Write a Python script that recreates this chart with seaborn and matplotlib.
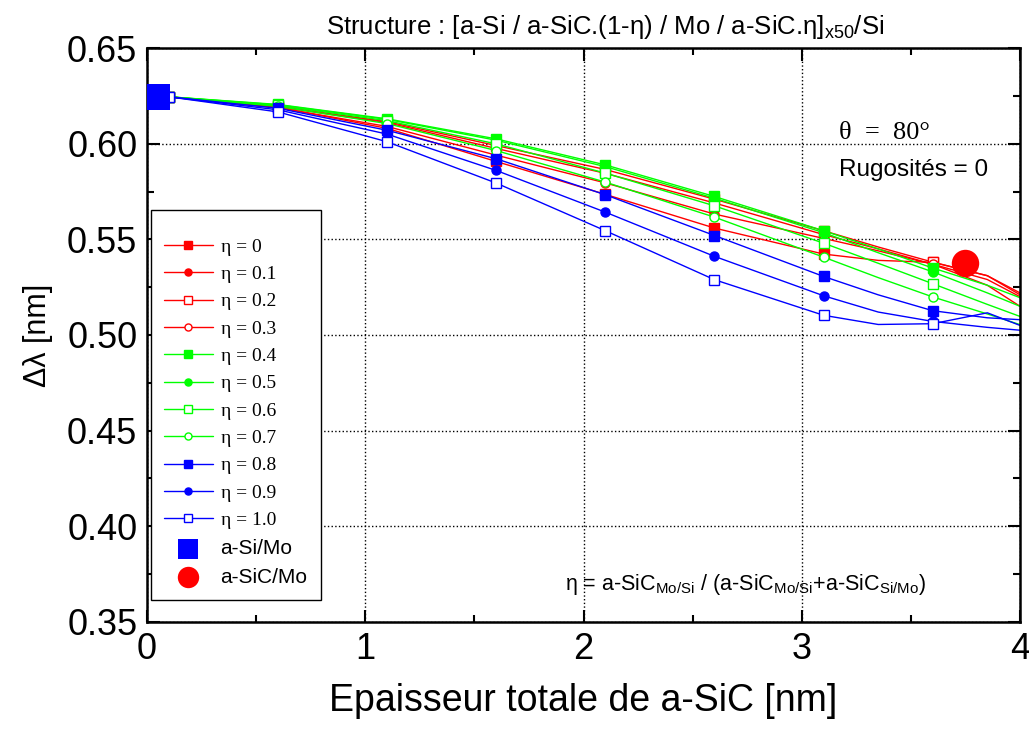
import numpy as np
import seaborn as sns
import matplotlib.pyplot as plt

# total a-SiC thickness [nm] (markers drawn at every point except 3.35 and 3.85)
thickness = [0.1, 0.6, 1.1, 1.6, 2.1, 2.6, 3.1, 3.35, 3.6, 3.85, 4.0]

eta_labels = ["0", "0.1", "0.2", "0.3", "0.4", "0.5", "0.6", "0.7", "0.8", "0.9", "1.0"]

dl_eta00 = [0.6245, 0.6190, 0.6080, 0.5907, 0.5735, 0.5559, 0.5423, 0.5390, 0.5380, 0.5310, 0.5210]
dl_eta01 = [0.6245, 0.6188, 0.6090, 0.5940, 0.5795, 0.5632, 0.5505, 0.5440, 0.5370, 0.5260, 0.5150]
dl_eta02 = [0.6245, 0.6195, 0.6115, 0.5990, 0.5865, 0.5710, 0.5545, 0.5460, 0.5381, 0.5310, 0.5220]
dl_eta03 = [0.6245, 0.6193, 0.6110, 0.5975, 0.5845, 0.5690, 0.5525, 0.5450, 0.5370, 0.5290, 0.5200]
dl_eta04 = [0.6245, 0.6205, 0.6130, 0.6025, 0.5889, 0.5724, 0.5545, 0.5450, 0.5350, 0.5260, 0.5195]
dl_eta05 = [0.6245, 0.6203, 0.6127, 0.6018, 0.5880, 0.5715, 0.5535, 0.5430, 0.5330, 0.5220, 0.5150]
dl_eta06 = [0.6245, 0.6200, 0.6120, 0.5999, 0.5846, 0.5675, 0.5480, 0.5375, 0.5268, 0.5160, 0.5097]
dl_eta07 = [0.6245, 0.6195, 0.6105, 0.5964, 0.5799, 0.5616, 0.5407, 0.5300, 0.5199, 0.5110, 0.5054]
dl_eta08 = [0.6245, 0.6185, 0.6070, 0.5921, 0.5733, 0.5520, 0.5306, 0.5210, 0.5127, 0.5090, 0.5080]
dl_eta09 = [0.6245, 0.6177, 0.6050, 0.5860, 0.5642, 0.5411, 0.5205, 0.5120, 0.5071, 0.5040, 0.5025]
dl_eta10 = [0.6245, 0.6166, 0.6010, 0.5794, 0.5545, 0.5289, 0.5103, 0.5055, 0.5059, 0.5116, 0.5050]

series = [dl_eta00, dl_eta01, dl_eta02, dl_eta03, dl_eta04, dl_eta05,
          dl_eta06, dl_eta07, dl_eta08, dl_eta09, dl_eta10]

# reference structures
asi_mo_x, asi_mo_y = [0.046], [0.6245]
asic_mo_x, asic_mo_y = [3.748], [0.5378]

colors = ["#ff0000"] * 4 + ["#00ff00"] * 4 + ["#0000ff"] * 3
markers = ["s", "o", "s", "o", "s", "o", "s", "o", "s", "o", "s"]
filled = [True, True, False, False, True, True, False, False, True, True, False]

sns.set_style("ticks")
plt.rcParams["font.family"] = ["Liberation Sans", "DejaVu Sans"]
plt.rcParams["mathtext.fontset"] = "custom"
plt.rcParams["mathtext.rm"] = "Liberation Sans"
plt.rcParams["mathtext.it"] = "Liberation Sans:italic"
for k in ["text.color", "axes.labelcolor", "xtick.color", "ytick.color", "axes.edgecolor"]:
    plt.rcParams[k] = "black"

fig = plt.figure(figsize=(10.29, 7.32), dpi=100)
ax = fig.add_axes([0.1429, 0.1503, 0.8484, 0.7841])

for vals, lab, c, m, f in zip(series, eta_labels, colors, markers, filled):
    sns.lineplot(x=thickness, y=vals, color=c, linewidth=1.0, marker=m,
                 markersize=6.5, markerfacecolor=c if f else "white",
                 markeredgecolor=c, markeredgewidth=1.0,
                 markevery=[0, 1, 2, 3, 4, 5, 6, 8],
                 label="η = " + lab, legend=False, ax=ax)

sns.scatterplot(x=asi_mo_x, y=asi_mo_y, marker="s", s=330, color="#0000ff",
                linewidth=0, label="a-Si/Mo", legend=False, ax=ax, zorder=5)
sns.scatterplot(x=asic_mo_x, y=asic_mo_y, marker="o", s=390, color="#ff0000",
                linewidth=0, label="a-SiC/Mo", legend=False, ax=ax, zorder=5)

ax.set_xlim(0, 4)
ax.set_ylim(0.35, 0.65)
ax.set_xticks(np.arange(0, 4.01, 1))
ax.set_xticks(np.arange(0, 4.01, 0.5), minor=True)
ax.set_yticks(np.arange(0.35, 0.651, 0.05))
ax.set_yticks(np.arange(0.35, 0.651, 0.025), minor=True)
ax.set_yticklabels([f"{v:.2f}" for v in np.arange(0.35, 0.651, 0.05)])
ax.tick_params(which="both", direction="in", top=True, right=True,
               labelsize=26, width=1.5, pad=7)
ax.tick_params(which="major", length=9)
ax.tick_params(which="minor", length=5)
for sp in ax.spines.values():
    sp.set_linewidth(1.8)
ax.grid(True, which="major", linestyle=":", color="black", linewidth=1.0)

ax.set_xlabel("Epaisseur totale de a-SiC [nm]", fontsize=27, labelpad=12)
ax.set_ylabel("Δλ [nm]", fontsize=22, labelpad=10)

fig.text(0.588, 0.963,
         r"Structure : [a-Si / a-SiC.(1-η) / Mo / a-SiC.η]$_{\mathrm{x50}}$/Si",
         ha="center", va="center", fontsize=18.5)

ax.text(3.17, 0.6056, "θ  =  80°", fontsize=19, va="center",
        family=["Liberation Serif", "DejaVu Serif"])
ax.text(3.17, 0.5863, "Rugosités = 0", fontsize=17.5, va="center")
ax.text(1.915, 0.3697,
        r"η = a-SiC$_{\mathrm{Mo/Si}}$ / (a-SiC$_{\mathrm{Mo/Si}}$+a-SiC$_{\mathrm{Si/Mo}}$)",
        fontsize=15.5, va="center")

leg = ax.legend(loc="upper left", bbox_to_anchor=(0.004, 0.718), fontsize=14,
                frameon=True, fancybox=False, framealpha=1, edgecolor="black",
                borderpad=0.7, labelspacing=0.5, handlelength=2.5,
                handletextpad=0.4, markerscale=0.78, borderaxespad=0,
                title=" ", title_fontsize=4)
leg.get_frame().set_linewidth(1.0)
for t in leg.get_texts():
    if t.get_text().startswith("η"):
        t.set_family(["Liberation Serif", "DejaVu Serif"])
    else:
        t.set_fontsize(15)

fig.savefig("out.png", dpi=100)
